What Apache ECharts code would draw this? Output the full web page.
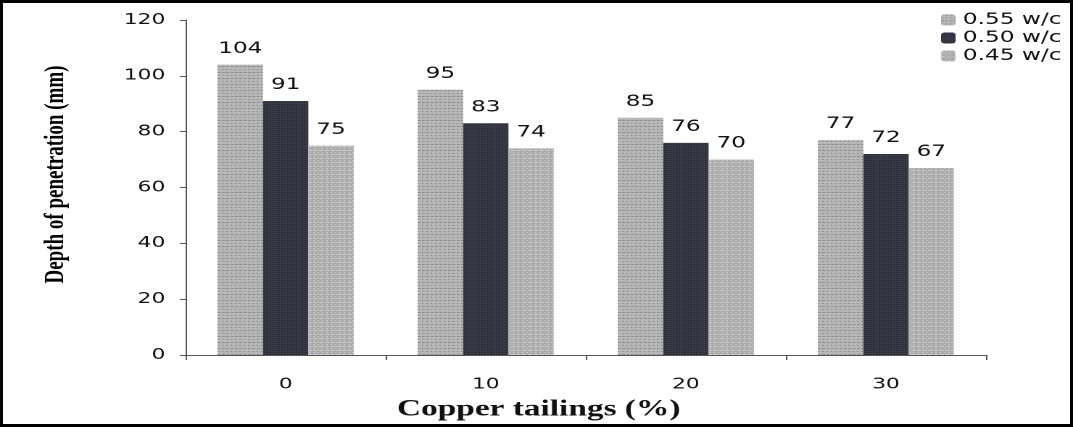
<!DOCTYPE html>
<html>
<head>
<meta charset="utf-8">
<script src="https://cdn.jsdelivr.net/npm/echarts@6/dist/echarts.min.js"></script>
<style>
html,body{margin:0;padding:0;background:#fff;overflow:hidden;}
#wrap{position:relative;width:1073px;height:427px;overflow:hidden;}
#c{position:absolute;left:0;top:0;width:740px;height:427px;transform:scaleX(1.45);transform-origin:0 0;}
#frame{position:absolute;left:0;top:0;width:1073px;height:427px;box-sizing:border-box;border:3px solid #000;pointer-events:none;}
</style>
</head>
<body>
<div id="wrap"><div id="c"></div><div id="frame"></div></div>
<script>
const categories = ['0', '10', '20', '30'];
const seriesNames = ['0.55 w/c', '0.50 w/c', '0.45 w/c'];
const wc055 = [104, 95, 85, 77];
const wc050 = [91, 83, 76, 72];
const wc045 = [75, 74, 70, 67];
const yTicks = [0, 20, 40, 60, 80, 100, 120];

const chart = echarts.init(document.getElementById('c'), null, {devicePixelRatio: 2});
const colors = ['#b6b6b6', '#3a3a48', '#a9a9a9'];
const decals = [
  {symbol: 'rect', symbolSize: 1, dashArrayX: [[1, 2], [2, 1]], dashArrayY: [1, 2], color: 'rgba(90,90,90,0.45)', rotation: 0},
  {symbol: 'rect', symbolSize: 1, dashArrayX: [1, 1], dashArrayY: [1, 1], color: 'rgba(20,20,30,0.5)', rotation: 0},
  {symbol: 'rect', symbolSize: 1, dashArrayX: [[3, 1], [1, 2]], dashArrayY: [1, 1], color: 'rgba(240,240,240,0.55)', rotation: 0}
];
const dataSets = [wc055, wc050, wc045];
const labelFont = {color: '#111', fontFamily: 'DejaVu Sans', fontSize: 15};

chart.setOption({
  animation: false,
  backgroundColor: '#fff',
  legend: {
    orient: 'vertical', right: 3, top: 7, itemWidth: 10, itemHeight: 11, itemGap: 2,
    textStyle: {color: '#111', fontFamily: 'DejaVu Sans', fontSize: 16},
    data: seriesNames
  },
  grid: {left: 128, right: 60, top: 20, bottom: 72},
  xAxis: {
    type: 'category', data: categories,
    name: 'Copper tailings (%)', nameLocation: 'middle', nameGap: 43,
    nameTextStyle: {fontFamily: 'Liberation Serif', fontWeight: 'bold', fontSize: 23, color: '#111', padding: [0, 65, 0, 0]},
    axisLine: {lineStyle: {color: '#555', width: 1}},
    axisTick: {show: true, length: 5, lineStyle: {color: '#555'}},
    axisLabel: {margin: 22, ...labelFont}
  },
  yAxis: {
    type: 'value', min: 0, max: 120, interval: 20,
    name: 'Depth of penetration (mm)', nameLocation: 'middle', nameGap: 80,
    nameTextStyle: {fontFamily: 'Liberation Serif', fontWeight: 'bold', fontSize: 19, color: '#000', padding: [0, 0, 0, 26]},
    axisLine: {show: true, lineStyle: {color: '#555', width: 1}},
    axisTick: {show: true, length: 4, lineStyle: {color: '#555'}},
    splitLine: {show: false},
    axisLabel: {margin: 14, ...labelFont, formatter: v => yTicks.includes(v) ? String(v) : ''}
  },
  series: dataSets.map((d, i) => ({
    type: 'bar', name: seriesNames[i], data: d,
    barGap: '0%', barCategoryGap: '32%',
    itemStyle: {color: colors[i], decal: decals[i]},
    label: {show: true, position: 'top', distance: 8, ...labelFont, fontSize: 16}
  }))
});
</script>
</body>
</html>
